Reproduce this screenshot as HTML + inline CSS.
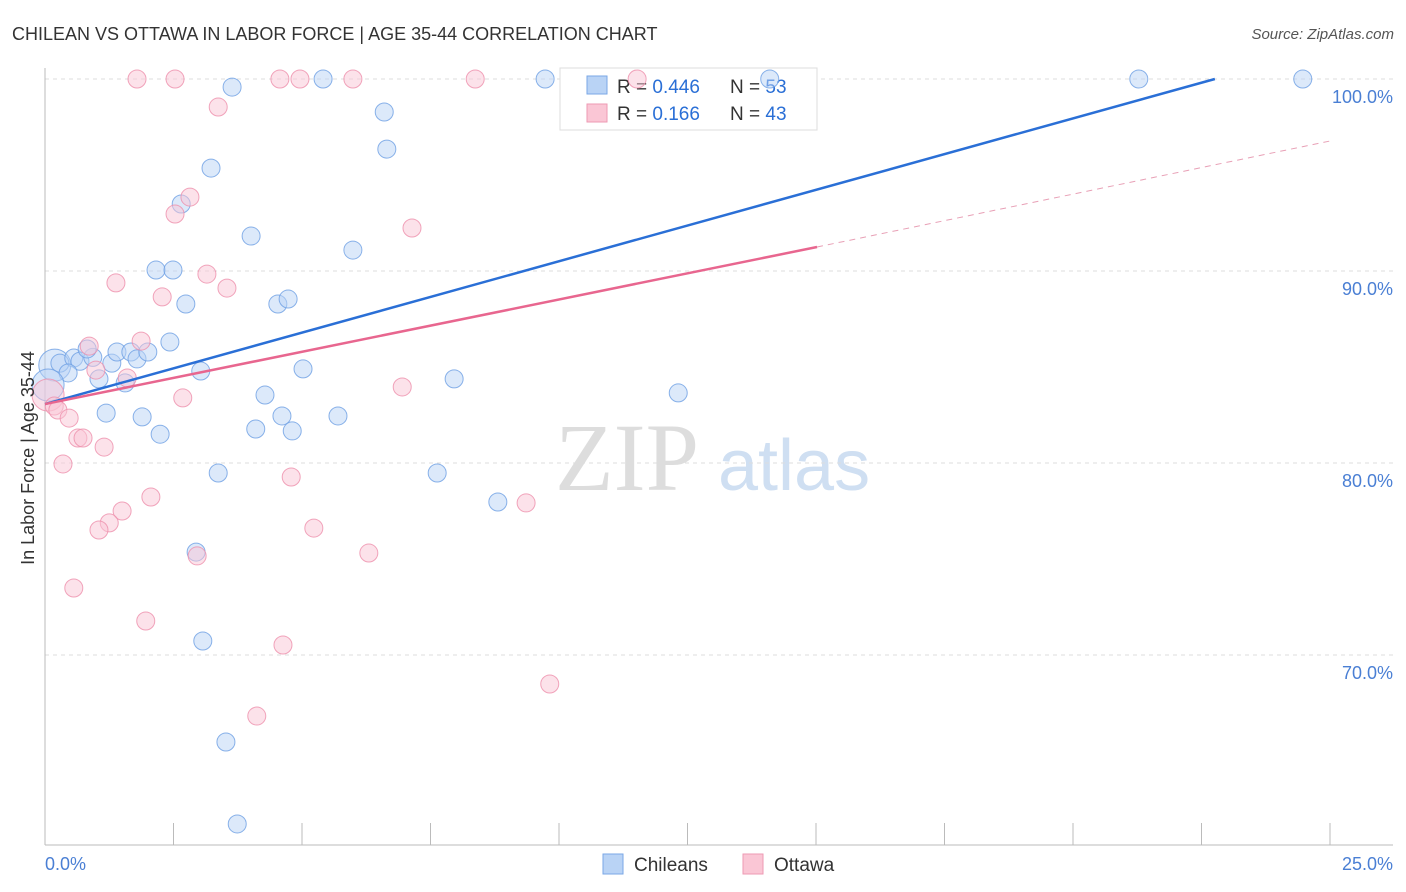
<!DOCTYPE html>
<html><head><meta charset="utf-8"><style>
body{margin:0;background:#fff;font-family:"Liberation Sans",sans-serif}
svg{display:block}
</style></head><body>
<svg id="c" width="1406" height="892">
<text x="12" y="40" font-size="18" fill="#333">CHILEAN VS OTTAWA IN LABOR FORCE | AGE 35-44 CORRELATION CHART</text>
<text x="1394" y="39" font-size="15" fill="#555" font-style="italic" text-anchor="end">Source: ZipAtlas.com</text>
<text x="555" y="490" font-size="96" fill="#ddd" font-family="Liberation Serif,serif">ZIP</text>
<text x="718" y="490" font-size="72" fill="#cfdff2">atlas</text>
<g id="grid"></g>
<g>
<rect x="560" y="68" width="257" height="62" fill="#fff" stroke="#ddd"/>
<rect x="587" y="76" width="20" height="18" fill="#b9d3f5" stroke="#7aa7e6"/>
<rect x="587" y="104" width="20" height="18" fill="#fac6d5" stroke="#ee9ab3"/>
<text x="617" y="93" font-size="19" fill="#333">R = <tspan fill="#2a6fd6">0.446</tspan></text>
<text x="730" y="93" font-size="19" fill="#333">N = <tspan fill="#2a6fd6">53</tspan></text>
<text x="617" y="120" font-size="19" fill="#333">R =  <tspan fill="#2a6fd6">0.166</tspan></text>
<text x="730" y="120" font-size="19" fill="#333">N = <tspan fill="#2a6fd6">43</tspan></text>
</g>
<g id="pts"></g><g id="lines"></g>
<text transform="translate(34,458) rotate(-90)" font-size="18" fill="#333" text-anchor="middle">In Labor Force | Age 35-44</text>
<text x="45" y="870" font-size="18" fill="#4a7fd4">0.0%</text>
<text x="1393" y="870" font-size="18" fill="#4a7fd4" text-anchor="end">25.0%</text>
<g>
<rect x="603" y="854" width="20" height="20" fill="#b9d3f5" stroke="#7aa7e6"/>
<text x="634" y="871" font-size="19" fill="#333">Chileans</text>
<rect x="743" y="854" width="20" height="20" fill="#fac6d5" stroke="#ee9ab3"/>
<text x="774" y="871" font-size="19" fill="#333">Ottawa</text>
</g>
</svg>
<script>
const yTicks=[100,90,80,70];
const yTickLabels=["100.0%","90.0%","80.0%","70.0%"];
const xTicks=[0,2.5,5,7.5,10,12.5,15,17.5,20,22.5,25];
const blueX=[3.64,5.41,9.73,14.1,21.28,24.47,6.6,6.65,3.23,2.65,4.01,5.99,2.16,2.49,2.74,4.53,4.73,2.43,0.19,0.29,0.56,0.68,0.93,0.82,1.3,1.4,1.67,1.79,2.0,0.45,1.05,1.56,3.03,5.02,7.96,12.32,4.28,1.19,1.89,4.61,5.7,2.24,4.1,4.81,3.37,7.63,8.81,2.94,3.07,3.52,3.74,0.06];
const blueY=[99.58,100,100,100,100,100,98.28,96.35,95.36,93.49,91.82,91.09,90.05,90.05,88.28,88.28,88.54,86.3,85.1,85.2,85.47,85.3,85.5,85.94,85.2,85.78,85.78,85.42,85.78,84.69,84.38,84.17,84.79,84.9,84.38,83.65,83.54,82.6,82.4,82.45,82.45,81.5,81.77,81.67,79.48,79.48,77.97,75.36,70.73,65.47,61.2,84.06];
const pinkX=[1.79,2.53,4.57,4.96,5.99,8.37,11.52,3.37,2.82,2.53,7.14,1.38,3.15,3.54,2.28,1.87,0.86,0.99,1.6,6.95,2.68,0.06,0.18,0.25,0.47,0.64,0.74,1.15,0.35,4.79,2.06,9.36,1.5,1.25,1.05,5.23,6.3,2.96,0.56,1.96,4.63,4.12,9.82];
const pinkY=[100,100,100,100,100,100,100,98.54,93.85,92.97,92.24,89.38,89.84,89.11,88.65,86.35,86.09,84.84,84.43,83.96,83.39,83.54,82.97,82.76,82.34,81.3,81.3,80.83,79.95,79.27,78.23,77.92,77.5,76.88,76.51,76.61,75.31,75.16,73.49,71.77,70.52,66.82,68.49];
const blueTrend=[[0,83.07],[22.76,100]];
const pinkTrend=[[0,83.07],[15.02,91.25]];
const pinkDash=[[15.02,91.25],[25,96.77]];
const NS="http://www.w3.org/2000/svg";
const sx=v=>45+v/25*1285, sy=v=>79+(100-v)*19.2;
function mk(p,t,a){const e=document.createElementNS(NS,t);for(const k in a)e.setAttribute(k,a[k]);p.appendChild(e);return e;}
const g=document.getElementById('grid');
yTicks.forEach((t,i)=>{
 const l=mk(g,'line',{x1:45,x2:1393,y1:sy(t),y2:sy(t),stroke:'#ddd','stroke-dasharray':'4,4'});
 
 
 const tx=mk(g,'text',{x:1393,y:sy(t)+24,'font-size':18,fill:'#4a7fd4','text-anchor':'end'});
 tx.textContent=yTickLabels[i];
 
 
});
const ax=mk(g,'line',{x1:45,x2:45,y1:68,y2:845,stroke:'#bbb'});


const bx=mk(g,'line',{x1:45,x2:1393,y1:845,y2:845,stroke:'#bbb'});


xTicks.forEach(t=>{
 const l=mk(g,'line',{x1:sx(t),x2:sx(t),y1:823,y2:845,stroke:'#bbb'});
 
 
});
const P=document.getElementById('pts');
function dots(X,Y,fill,stroke,name){X.forEach((x,i)=>{
 const big=(x<0.2&&Y[i]>83.5&&Y[i]<85.2);
 const c=mk(P,'circle',{cx:sx(x),cy:sy(Y[i]),r:big?16:9,fill:fill,'fill-opacity':0.5,stroke:stroke,'stroke-opacity':0.8});
 
 
});}
dots(blueX,blueY,'#b9d3f5','#6d9fe3','chileans-point');
dots(pinkX,pinkY,'#fac6d5','#ee8fab','ottawa-point');
const L=document.getElementById('lines');
function ln(d,col,w,dash,name){const a=mk(L,'line',{x1:sx(d[0][0]),y1:sy(d[0][1]),x2:sx(d[1][0]),y2:sy(d[1][1]),stroke:col,'stroke-width':w});if(dash)a.setAttribute('stroke-dasharray',dash);
 
 }
ln(blueTrend,'#2a6fd6',2.5,null,'chileans-trendline');
ln(pinkTrend,'#e8668f',2.5,null,'ottawa-trendline');
ln(pinkDash,'#e8a0b6',1,'6,5','ottawa-trendline-extension');
</script>
</body></html>
